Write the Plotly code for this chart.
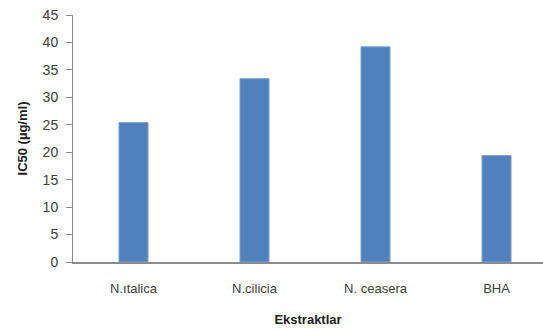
import plotly.graph_objects as go

categories = ["N.ıtalica", "N.cilicia", "N. ceasera", "BHA"]
ic50_values = [25.4, 33.4, 39.2, 19.4]
y_ticks = [0, 5, 10, 15, 20, 25, 30, 35, 40, 45]

fig = go.Figure()
fig.add_trace(go.Bar(
    x=list(range(len(categories))),
    y=ic50_values,
    width=0.24,
    marker=dict(color="#4F81BD", line=dict(color="#7EA3D3", width=1)),
))

fig.update_layout(
    width=543, height=331,
    margin=dict(l=73, r=0, t=15, b=69),
    paper_bgcolor="white", plot_bgcolor="white",
    showlegend=False,
    font=dict(family="Liberation Sans, Arial, sans-serif", color="#404040"),
    xaxis=dict(
        tickmode="array", tickvals=list(range(len(categories))), ticktext=categories,
        range=[-0.5, 3.384],
        showline=True, linecolor="#8C8C8C", linewidth=1.5,
        showgrid=False, ticks="", zeroline=False,
        ticklabelstandoff=14,
        tickfont=dict(size=13, color="#404040"),
        title=dict(text="<b>Ekstraktlar</b>", font=dict(size=13, color="#202020"), standoff=20),
    ),
    yaxis=dict(
        range=[0, 45], tickvals=y_ticks,
        showline=True, linecolor="#8C8C8C", linewidth=1,
        showgrid=False, ticks="outside", ticklen=6, tickcolor="#8C8C8C",
        zeroline=False,
        ticklabelstandoff=5,
        tickfont=dict(size=14, color="#404040"),
        title=dict(text="<b>IC50 (µg/ml)</b>", font=dict(size=13, color="#202020"), standoff=12),
    ),
)

fig.write_html("out.html")
